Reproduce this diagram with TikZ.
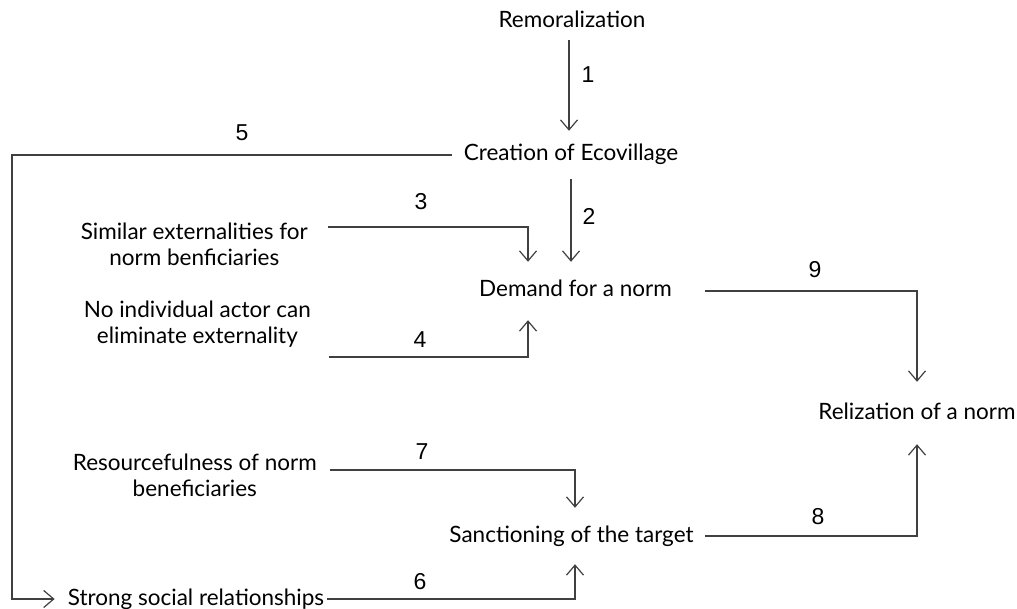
\documentclass[tikz,border=0pt]{standalone}
\usepackage{fontspec}
\setmainfont{Lato}
\newfontfamily\numfont{Liberation Sans}
\usetikzlibrary{arrows.meta, positioning}

\definecolor{linegray}{HTML}{404040}

\tikzset{
  lbl/.style={font=\fontsize{22.5}{26}\selectfont, text height=17pt, text depth=5pt, inner xsep=3pt, inner ysep=18pt},
  side/.style={font=\fontsize{22.5}{26}\selectfont, align=center, anchor=east, inner ysep=0pt},
  num/.style={font=\numfont\fontsize{23}{26}\selectfont, inner sep=0pt},
  flow/.style={draw=linegray, line width=1.2pt, -{Straight Barb[length=10pt,width=17pt]}},
}

\begin{document}
\begin{tikzpicture}[x=1pt, y=-1pt]
    \useasboundingbox (0,0) rectangle (1017,609);
    % Main chain
    \node[lbl, inner ysep=7pt] (rem) at (572,22) {Remoralization};
    \node[lbl, inner xsep=12pt, inner ysep=13pt] (cre) at (571,155) {Creation of Ecovillage};
    \node[lbl, inner xsep=33pt] (dem) at (575.5,291) {Demand for a norm};
    \node[lbl, inner ysep=20pt] (rel) at (917,413) {Relization of a norm};
    \node[lbl, inner xsep=11pt, inner ysep=17pt] (san) at (571.5,536) {Sanctioning of the target};
    % Conditions on the left
    \node[side, inner xsep=20pt] (sim) at (328,244) {Similar externalities for\\norm benficiaries};
    \node[side, inner xsep=18pt] (noi) at (329,324) {No individual actor can\\eliminate externality};
    \node[side, inner xsep=13pt] (res) at (330,475) {Resourcefulness of norm\\beneficiaries};
    \node[lbl, inner ysep=0pt] (ssr) at (196,599) {Strong social relationships};
    \coordinate (corner) at (12,0);
    \coordinate (c1) at ([xshift=-3pt]rem.south);
    \coordinate (c2) at (cre.south);

    % Connectors
    \draw[flow] (c1) -- (c1 |- cre.north);
    \draw[flow] (c2) -- (c2 |- dem.north);
    \draw[flow] ([yshift=17pt]sim.east) -| ([xshift=-47.5pt]dem.north);
    \draw[flow] ([yshift=-33pt]noi.east) -| ([xshift=-47.5pt]dem.south);
    \draw[flow, shorten >=10pt] (cre.west) -- (cre.west -| corner) |- (ssr.west);
    \draw[flow] (ssr.east) -| ([xshift=3.5pt]san.south);
    \draw[flow] ([yshift=5pt]res.east) -| ([xshift=3.5pt]san.north);
    \draw[flow] (san.east) -| (rel.south);
    \draw[flow] (dem.east) -| (rel.north);

    % Numbers
    \node[num] (n1) at (588,75) {1};
    \node[num] (n2) at (589,216) {2};
    \node[num] (n3) at (421,202) {3};
    \node[num] (n4) at (420,340) {4};
    \node[num] (n5) at (242,133) {5};
    \node[num] (n6) at (420,582) {6};
    \node[num] (n7) at (422,452) {7};
    \node[num] (n8) at (818,517) {8};
    \node[num] (n9) at (815,270) {9};
\end{tikzpicture}
\end{document}
